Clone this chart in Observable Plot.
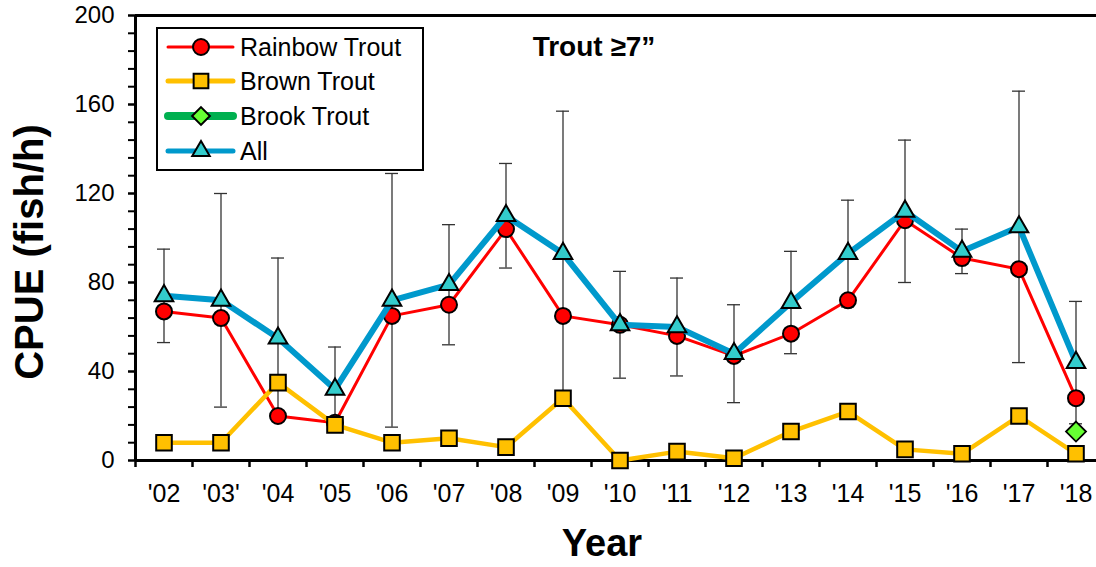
<!DOCTYPE html>
<html><head><meta charset="utf-8">
<script src="https://cdn.jsdelivr.net/npm/d3@7"></script>
<script src="https://cdn.jsdelivr.net/npm/@observablehq/plot@0.6"></script>
<style>
body{margin:0;background:#fff;font-family:"Liberation Sans",Arial,sans-serif;}
#wrap{position:relative;width:1096px;height:567px;overflow:hidden;}
.lbl{position:absolute;white-space:nowrap;color:#000;}
</style></head>
<body><div id="wrap"></div>
<script>
const years = ["'02","'03'","'04","'05","'06","'07","'08","'09","'10","'11","'12","'13","'14","'15","'16","'17","'18"];
const rainbow = [67,64,20,17,65,70,104,65,61,56,47,57,72,108,91,86,28];
const brown = [8,8,35,16,8,10,6,28,0,4,1,13,22,5,3,20,3];
const brookYears = ["'18"];
const brook = [13];
const all = [74,72,55,32,72,79,110,93,61,60,48,71,93,112,94,105,44];
const allErr = [21,48,36,19,57,27,23.5,64,24,22,22,23,24,32,10,61,27.5];
const yTicks = [0,40,80,120,160,200];
const yMinor = d3.range(0,201,8);

const rows = years.map((y,i)=>({i, year:y, rainbow:rainbow[i], brown:brown[i], all:all[i], lo:all[i]-allErr[i], hi:all[i]+allErr[i]}));
const brookRows = brookYears.map((y,k)=>({i: years.indexOf(y), v: brook[k]}));

const cRed="#FF0000", cGold="#FFC000", cBlue="#0099CC", cTeal="#33CCCC", cGreen="#00B050", cLime="#66FF33";

const plot = Plot.plot({
  width:1096, height:567,
  marginLeft:135, marginTop:15, marginBottom:107, marginRight:0,
  style:{fontFamily:"'Liberation Sans',Arial,sans-serif", background:"transparent", overflow:"visible"},
  x:{type:"linear", domain:[-0.5,16.5], range:[135,1104], label:null},
  y:{domain:[0,200], range:[460,15], label:null},
  marks:[
    Plot.axisY({ticks:yMinor, tickSize:7, tickFormat:()=>"", strokeWidth:2, label:null}),
    Plot.axisY({ticks:yTicks, tickSize:7, tickPadding:14, fontSize:24, strokeWidth:2, label:null}),
    Plot.axisX({ticks:d3.range(-0.5,17,1), tickSize:7, tickFormat:()=>"", strokeWidth:2.5, label:null}),
    Plot.axisX({ticks:d3.range(0,17), tickSize:0, tickPadding:24, fontSize:25, fontFamily:"'Liberation Sans Narrow','Arial Narrow',Arial,sans-serif", tickFormat:i=>years[i], label:null}),
    Plot.ruleY([200], {stroke:"#000", strokeWidth:3}),
    Plot.ruleY([0], {stroke:"#000", strokeWidth:3}),
    Plot.ruleX([-0.5], {stroke:"#000", strokeWidth:3}),
    // error bars
    Plot.ruleX(rows, {x:"i", y1:"lo", y2:"hi", stroke:"#333", strokeWidth:1.3}),
    Plot.ruleY(rows, {y:"hi", x1:"i", x2:"i", insetLeft:-6.5, insetRight:-6.5, stroke:"#333", strokeWidth:1.3}),
    Plot.ruleY(rows, {y:"lo", x1:"i", x2:"i", insetLeft:-6.5, insetRight:-6.5, stroke:"#333", strokeWidth:1.3}),
    // rainbow
    Plot.line(rows, {x:"i", y:"rainbow", stroke:cRed, strokeWidth:3}),
    Plot.dot(rows, {x:"i", y:"rainbow", r:8, fill:cRed, stroke:"#000", strokeWidth:2}),
    // brown
    Plot.line(rows, {x:"i", y:"brown", stroke:cGold, strokeWidth:4.5}),
    Plot.dot(rows, {x:"i", y:"brown", symbol:"square", r:8.8, fill:cGold, stroke:"#000", strokeWidth:2}),
    // all
    Plot.line(rows, {x:"i", y:"all", stroke:cBlue, strokeWidth:6}),
    Plot.dot(rows, {x:"i", y:"all", symbol:"triangle", r:6.9, fill:cTeal, stroke:"#000", strokeWidth:2}),
    // brook
    Plot.dot(brookRows, {x:"i", y:"v", symbol:"diamond2", r:9, fill:cLime, stroke:"#000", strokeWidth:1.8})
  ]
});
const wrap = document.getElementById("wrap");
plot.style.position="absolute"; plot.style.left="0"; plot.style.top="0";
wrap.appendChild(plot);

// title
const t = document.createElement("div");
t.className="lbl"; t.textContent="Trout \u22657\u201D";
Object.assign(t.style,{left:"594px", top:"30px", transform:"translateX(-50%)", fontSize:"28px", fontWeight:"bold", lineHeight:"34px"});
wrap.appendChild(t);

// y label
const yl = document.createElement("div");
yl.className="lbl"; yl.textContent="CPUE (fish/h)";
Object.assign(yl.style,{left:"29px", top:"252px", transform:"translate(-50%,-50%) rotate(-90deg)", fontSize:"40px", fontWeight:"bold", lineHeight:"44px"});
wrap.appendChild(yl);

// x label
const xl = document.createElement("div");
xl.className="lbl"; xl.textContent="Year";
Object.assign(xl.style,{left:"602px", top:"521px", transform:"translateX(-50%)", fontSize:"38px", fontWeight:"bold", lineHeight:"44px"});
wrap.appendChild(xl);

// legend
const legendItems = [
  {name:"Rainbow Trout", line:cRed, lw:3, sym:d3.symbolCircle, r:8, fill:cRed},
  {name:"Brown Trout", line:cGold, lw:5, sym:d3.symbolSquare, r:8.3, fill:cGold},
  {name:"Brook Trout", line:cGreen, lw:8, sym:d3.symbolDiamond2, r:8, fill:cLime},
  {name:"All", line:cBlue, lw:5, sym:d3.symbolTriangle, r:6.5, fill:cTeal}
];
const lg = d3.create("svg").attr("width",268).attr("height",144)
  .style("position","absolute").style("left","156px").style("top","27px");
lg.append("rect").attr("x",1).attr("y",1).attr("width",266).attr("height",142).attr("fill","#fff").attr("stroke","#000").attr("stroke-width",2);
const rowY=[20,54,89,124];
legendItems.forEach((d,k)=>{
  const g = lg.append("g").attr("transform",`translate(0,${rowY[k]})`);
  g.append("line").attr("x1",12).attr("x2",77).attr("stroke",d.line).attr("stroke-width",d.lw).attr("stroke-linecap","round");
  g.append("path").attr("transform","translate(45,0)").attr("d",d3.symbol(d.sym, Math.PI*d.r*d.r)()).attr("fill",d.fill).attr("stroke","#000").attr("stroke-width",2);
  g.append("text").attr("x",84).attr("y",0).attr("dy","0.36em").attr("font-size",25).attr("font-family","'Liberation Sans',Arial,sans-serif").text(d.name);
});
wrap.appendChild(lg.node());
</script></body></html>
